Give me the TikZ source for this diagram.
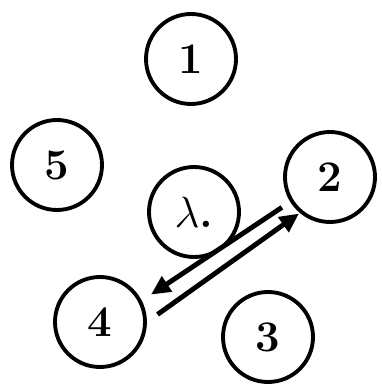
\documentclass[tikz,border=0pt]{standalone}
\usetikzlibrary{arrows.meta}
\begin{document}
\begin{tikzpicture}[
  every node/.style={font=\Huge\bfseries},
  nd/.style={draw, circle, line width=2.2pt, minimum size=1.8cm, inner sep=0pt},
  ar/.style={-{Triangle[length=11pt,width=10pt]}, line width=2.8pt}]
\useasboundingbox (0,0) rectangle (7.62,7.68);

% ---------------- circles ----------------
\node[nd] (n1) at (3.82, 6.50) {1};
\node[nd] (n5) at (1.14, 4.38) {5};
\node[nd] (nc) at (3.88, 3.44) {$\lambda$.};
\node[nd] (n2) at (6.60, 4.14) {2};
\node[nd] (n4) at (2.00, 1.24) {4};
\node[nd] (n3) at (5.36, 0.94) {3};

% ---------------- arrows between 2 and 4 ----------------
\draw[ar, shorten <=0.2cm, shorten >=0.22cm] (n2.212) -- (n4.27);
\draw[ar, shorten <=0.26cm, shorten >=0.02cm] (n4.east) -- (n2.230);
\end{tikzpicture}
\end{document}
